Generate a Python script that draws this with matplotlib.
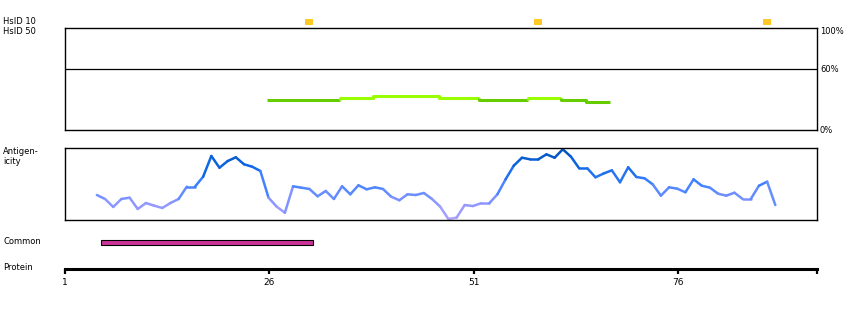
import numpy as np
import matplotlib
matplotlib.use('Agg')
import matplotlib.pyplot as plt
from matplotlib.collections import LineCollection
from matplotlib.colors import LinearSegmentedColormap

# protein: 92 residues, axis runs 1 .. 93
protein_end = 93
tick_pos = [1, 26, 51, 76]

# HsID 10 hits (residues)
hsid10_hits = [31, 59, 87]

# HsID 50 identity (%), residues 26..67
hsid50_start = 26
hsid50_vals = ([29.4] * 9 + [31.4] * 4 + [33.3] * 8 + [31.4] * 5 +
               [29.4] * 6 + [31.4] * 4 + [29.4] * 3 + [27.5] * 3)

# antigenicity score (0..100), residues 5..88
antigen_start = 5
antigen_vals = [34.7, 29.2, 18.1, 29.2, 31.0, 15.3, 23.6, 19.9, 16.7, 23.6,
                29.2, 46.3, 46.3, 60.1, 88.9, 72.6, 81.9, 87.1, 77.4, 74.0,
                68.1, 31.0, 18.5, 10.1, 46.8, 44.9, 43.1, 32.9, 40.3, 29.2,
                46.8, 35.7, 48.2, 42.6, 45.4, 43.1, 32.4, 27.4, 35.7, 34.7,
                37.5, 29.2, 18.5, 1.4, 3.2, 20.8, 19.4, 23.2, 23.2, 35.7,
                56.5, 75.4, 86.5, 84.3, 84.3, 91.2, 86.5, 98.2, 87.9, 71.8,
                71.8, 59.3, 64.6, 69.0, 52.4, 73.2, 59.7, 57.9, 49.6, 33.8,
                45.4, 43.5, 38.5, 56.5, 47.6, 44.9, 36.5, 33.8, 37.9, 29.2,
                29.2, 47.6, 53.2, 20.8]

# common region (residues)
common_start, common_end = 6, 31

W, H = 850, 310
fig = plt.figure(figsize=(W / 100, H / 100), dpi=100)
fig.patch.set_facecolor('white')


def px_axes(x, y, w, h):
    return fig.add_axes([x / W, 1 - (y + h) / H, w / W, h / H])


def label(x, y, s, **kw):
    fig.text(x / W, 1 - y / H, s, fontsize=6, family='DejaVu Sans',
             va='center', **kw)


x0, x1 = 65, 817

# --- HsID 10 marks
ax_top = px_axes(x0, 19, x1 - x0, 6)
ax_top.set_xlim(1, protein_end)
ax_top.set_ylim(0, 1)
ax_top.bar(np.array(hsid10_hits) - 0.1, 1, width=1, bottom=0,
           color='#ffc824', linewidth=0)
ax_top.axis('off')

# --- HsID 50 panel
ax_hs = px_axes(x0, 28, x1 - x0, 102)
ax_hs.set_xlim(1, protein_end)
ax_hs.set_ylim(0, 100)
ax_hs.axhline(60, color='black', lw=0.9)

# one polyline per colour run
def hs_color(v):
    return '#99ff00' if v > 30 else '#66cc00'

run_x, run_y = [], []
run_c = hs_color(hsid50_vals[0])
for i, v in enumerate(hsid50_vals):
    r = hsid50_start + i
    c = hs_color(v)
    if c != run_c:
        ax_hs.plot(run_x, run_y, color=run_c, lw=2.2, solid_capstyle='butt')
        run_x, run_y = [run_x[-1]], [run_y[-1]]
        run_c = c
    run_x += [r - 0.3, r + 0.7]
    run_y += [v, v]
ax_hs.plot(run_x, run_y, color=run_c, lw=2.2, solid_capstyle='butt')
ax_hs.set_xticks([])
ax_hs.set_yticks([])
for s in ax_hs.spines.values():
    s.set_linewidth(1.0)

# --- antigenicity panel
ax_ag = px_axes(x0, 148, x1 - x0, 72)
ax_ag.set_xlim(1, protein_end)
ax_ag.set_ylim(0, 100)
ag_x = np.arange(antigen_start, antigen_start + len(antigen_vals)) - 0.1
ag_y = np.array(antigen_vals)
cmap = LinearSegmentedColormap.from_list(
    'ag', [(0.0, '#b0a4ff'), (0.25, '#8a96ff'), (0.5, '#3f82ff'),
           (0.75, '#0d66e6'), (1.0, '#0050b4')])
pts = np.column_stack([ag_x, ag_y])
segs = np.stack([pts[:-1], pts[1:]], axis=1)
mid = (ag_y[:-1] + ag_y[1:]) / 2
lc = LineCollection(segs, colors=cmap(mid / 100), linewidths=1.8,
                    capstyle='round', joinstyle='round', clip_on=False)
ax_ag.add_collection(lc)
ax_ag.set_xticks([])
ax_ag.set_yticks([])
for s in ax_ag.spines.values():
    s.set_linewidth(1.0)

# --- common region
ax_cm = px_axes(x0, 235, x1 - x0, 15)
ax_cm.set_xlim(1, protein_end)
ax_cm.set_ylim(0, 15)
ax_cm.barh(7.5, common_end - common_start + 1, left=common_start - 0.6,
           height=5, color='#cc3399', edgecolor='black', linewidth=0.8)
ax_cm.axis('off')

# --- protein axis
ax_pr = px_axes(x0, 255, x1 - x0, 14)
ax_pr.set_xlim(1, protein_end)
ax_pr.set_ylim(0, 1)
for k in ['top', 'left', 'right']:
    ax_pr.spines[k].set_visible(False)
ax_pr.spines['bottom'].set_linewidth(2.2)
ax_pr.set_yticks([])
ax_pr.set_xticks(tick_pos + [protein_end])
ax_pr.set_xticklabels([str(t) for t in tick_pos] + [''])
ax_pr.tick_params(axis='x', direction='out', length=3.5, width=1.6,
                  pad=3, labelsize=6.5)
ax_pr.patch.set_visible(False)

# --- labels
label(3, 22, 'HsID 10')
label(3, 32, 'HsID 50')
label(3, 152, 'Antigen-')
label(3, 162, 'icity')
label(3, 242, 'Common')
label(3, 268, 'Protein')
label(820, 32, '100%')
label(820, 70, '60%')
label(820, 130, '0%')

fig.savefig('out.png', dpi=100, facecolor='white')
